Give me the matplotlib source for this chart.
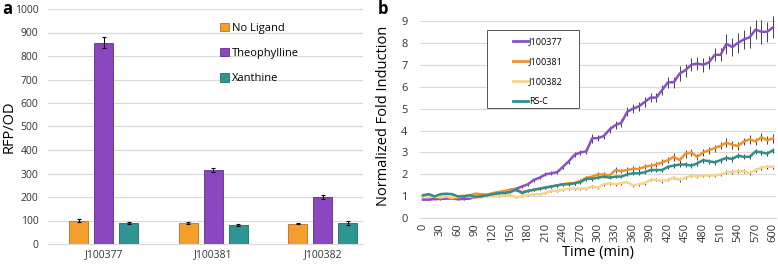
import numpy as np
import matplotlib
matplotlib.use("Agg")
import matplotlib.pyplot as plt
from matplotlib.lines import Line2D
from matplotlib.patches import Rectangle

plt.rcParams["font.family"] = ["Open Sans", "DejaVu Sans"]

# Panel a data
constructs = ["J100377", "J100381", "J100382"]
ligands = ["No Ligand", "Theophylline", "Xanthine"]
rfp_no_ligand = [100, 88, 87]
rfp_theophylline = [857, 315, 200]
rfp_xanthine = [88, 80, 90]
err_no_ligand = [6, 4, 3]
err_theophylline = [25, 10, 7]
err_xanthine = [5, 3, 8]

# Panel b data (every 10 min)
time_min = list(range(0, 610, 10))
fold_j100377 = [0.85, 0.85, 0.88, 0.88, 0.9, 0.9, 0.87, 0.88, 0.9, 0.97,
                1.0, 1.05, 1.1, 1.15, 1.2, 1.3, 1.35, 1.45, 1.55, 1.75,
                1.85, 2.0, 2.05, 2.1, 2.35, 2.6, 2.9, 3.0, 3.05, 3.65,
                3.65, 3.75, 4.05, 4.25, 4.35, 4.85, 5.0, 5.1, 5.3, 5.5,
                5.5, 5.85, 6.2, 6.2, 6.6, 6.75, 7.0, 7.05, 7.0, 7.1,
                7.45, 7.45, 7.95, 7.8, 8.0, 8.15, 8.25, 8.6, 8.5, 8.5, 8.7]
fold_j100381 = [1.0, 1.0, 0.97, 0.95, 1.0, 0.9, 0.95, 1.0, 1.05, 1.12,
                1.1, 1.08, 1.15, 1.2, 1.25, 1.3, 1.3, 1.2, 1.25, 1.3,
                1.35, 1.4, 1.45, 1.5, 1.55, 1.6, 1.6, 1.7, 1.85, 1.9,
                2.0, 2.0, 1.95, 2.2, 2.15, 2.2, 2.25, 2.25, 2.35, 2.4,
                2.45, 2.55, 2.65, 2.8, 2.65, 2.95, 3.0, 2.8, 3.0, 3.1,
                3.2, 3.3, 3.45, 3.35, 3.3, 3.5, 3.6, 3.5, 3.7, 3.55, 3.65]
fold_j100382 = [1.0, 0.97, 1.0, 0.95, 1.0, 0.95, 1.0, 1.05, 1.0, 0.95,
                0.97, 1.0, 1.0, 1.0, 1.05, 1.05, 0.95, 1.0, 1.05, 1.1,
                1.1, 1.15, 1.25, 1.25, 1.3, 1.35, 1.35, 1.35, 1.35, 1.45,
                1.4, 1.55, 1.6, 1.55, 1.6, 1.65, 1.5, 1.55, 1.6, 1.75,
                1.75, 1.7, 1.75, 1.85, 1.75, 1.85, 1.95, 1.9, 1.95, 1.95,
                1.95, 2.0, 2.1, 2.1, 2.15, 2.15, 2.05, 2.2, 2.3, 2.35, 2.35]
fold_rsc = [1.05, 1.1, 1.0, 1.1, 1.12, 1.1, 1.0, 1.0, 1.05, 0.97,
            1.0, 1.05, 1.1, 1.15, 1.15, 1.2, 1.3, 1.15, 1.25, 1.3,
            1.35, 1.4, 1.45, 1.5, 1.55, 1.55, 1.6, 1.65, 1.8, 1.8,
            1.85, 1.9, 1.85, 1.9, 1.9, 2.0, 2.05, 2.05, 2.1, 2.2,
            2.2, 2.2, 2.35, 2.4, 2.45, 2.45, 2.4, 2.5, 2.65, 2.6,
            2.55, 2.65, 2.75, 2.7, 2.85, 2.8, 2.8, 3.05, 3.0, 2.95, 3.1]
err_j100377 = [0.03, 0.03, 0.03, 0.03, 0.03, 0.03, 0.03, 0.03, 0.03, 0.04,
               0.04, 0.04, 0.05, 0.05, 0.05, 0.06, 0.06, 0.07, 0.07, 0.08,
               0.08, 0.09, 0.09, 0.1, 0.1, 0.12, 0.12, 0.13, 0.14, 0.2,
               0.15, 0.15, 0.16, 0.17, 0.18, 0.2, 0.22, 0.2, 0.22, 0.22,
               0.22, 0.24, 0.25, 0.25, 0.35, 0.3, 0.3, 0.3, 0.32, 0.28,
               0.3, 0.3, 0.45, 0.4, 0.45, 0.45, 0.5, 0.45, 0.55, 0.45, 0.5]
err_j100381 = [0.03, 0.03, 0.03, 0.03, 0.03, 0.03, 0.03, 0.03, 0.03, 0.04,
               0.04, 0.04, 0.04, 0.05, 0.05, 0.05, 0.05, 0.05, 0.05, 0.06,
               0.06, 0.06, 0.06, 0.07, 0.07, 0.07, 0.08, 0.08, 0.08, 0.09,
               0.09, 0.1, 0.1, 0.12, 0.1, 0.12, 0.12, 0.12, 0.12, 0.12,
               0.12, 0.14, 0.15, 0.18, 0.15, 0.18, 0.18, 0.15, 0.16, 0.16,
               0.16, 0.16, 0.2, 0.18, 0.18, 0.18, 0.2, 0.18, 0.2, 0.18, 0.2]
err_j100382 = [0.03, 0.03, 0.03, 0.03, 0.03, 0.03, 0.03, 0.03, 0.03, 0.03,
               0.03, 0.03, 0.03, 0.03, 0.03, 0.04, 0.04, 0.04, 0.04, 0.04,
               0.04, 0.04, 0.05, 0.05, 0.05, 0.05, 0.05, 0.05, 0.05, 0.06,
               0.06, 0.06, 0.06, 0.06, 0.06, 0.06, 0.06, 0.07, 0.07, 0.07,
               0.07, 0.07, 0.07, 0.08, 0.08, 0.08, 0.08, 0.08, 0.08, 0.08,
               0.08, 0.08, 0.09, 0.09, 0.09, 0.09, 0.09, 0.1, 0.1, 0.1, 0.1]
err_rsc = [0.05, 0.06, 0.05, 0.05, 0.05, 0.05, 0.05, 0.05, 0.05, 0.05,
           0.05, 0.05, 0.05, 0.05, 0.05, 0.05, 0.06, 0.06, 0.06, 0.06,
           0.06, 0.06, 0.06, 0.07, 0.07, 0.07, 0.07, 0.08, 0.08, 0.08,
           0.08, 0.08, 0.08, 0.08, 0.08, 0.09, 0.09, 0.09, 0.09, 0.1,
           0.1, 0.1, 0.1, 0.1, 0.1, 0.1, 0.1, 0.11, 0.11, 0.11,
           0.11, 0.11, 0.12, 0.12, 0.12, 0.12, 0.12, 0.12, 0.12, 0.12, 0.12]

bar_colors = ["#F59E2C", "#8A47BF", "#2E9692"]
bar_edges = ["#B8731A", "#5E2E88", "#1F6B68"]
line_colors = ["#8A4FC6", "#F0922C", "#F7D48A", "#2E8E8C"]
grid_color = "#D9D9D9"

W, H = 778, 266
fig = plt.figure(figsize=(W / 100, H / 100), dpi=100)

# ---- Panel a ----
ax1 = fig.add_axes([48 / W, 22 / H, 315 / W, 235 / H])
x = np.arange(len(constructs))
width = 0.173
offset = 0.228
series = [rfp_no_ligand, rfp_theophylline, rfp_xanthine]
errs = [err_no_ligand, err_theophylline, err_xanthine]
for k, (vals, e) in enumerate(zip(series, errs)):
    ax1.bar(x + (k - 1) * offset, vals, width, yerr=e, color=bar_colors[k],
            edgecolor=bar_edges[k], linewidth=0.6, label=ligands[k], zorder=3,
            error_kw=dict(elinewidth=0.8, capsize=1.5, capthick=0.8, ecolor="black"))
ax1.set_ylim(0, 1000)
ax1.set_xlim(-0.506, 2.365)
ax1.set_yticks(range(0, 1001, 100))
ax1.set_xticks(x)
ax1.set_xticklabels(constructs)
ax1.yaxis.grid(True, color=grid_color, linewidth=0.8, zorder=0)
ax1.set_axisbelow(True)
for s in ["top", "right", "left"]:
    ax1.spines[s].set_visible(False)
ax1.spines["bottom"].set_color(grid_color)
ax1.tick_params(axis="both", length=0, labelsize=7.5, colors="#333333")
ax1.tick_params(axis="y", pad=7)
ax1.set_ylabel("RFP/OD", fontsize=10.5)
ax1.yaxis.set_label_coords(-31 / 315, 0.5)
ax1.legend(loc="upper left", bbox_to_anchor=(0.515, 0.985), frameon=False,
           fontsize=8, handlelength=0.75, handleheight=0.75,
           labelspacing=1.3, handletextpad=0.3)
fig.text(2 / W, 1 - 9 / H, "a", fontsize=12, fontweight="bold", va="center")

# ---- Panel b ----
ax2 = fig.add_axes([420 / W, 47.7 / H, 356 / W, 204.1 / H])
lines = [fold_j100377, fold_j100381, fold_j100382, fold_rsc]
line_errs = [err_j100377, err_j100381, err_j100382, err_rsc]
names = ["J100377", "J100381", "J100382", "RS-C"]
for vals, e, c in zip(lines, line_errs, line_colors):
    ax2.errorbar(time_min, vals, yerr=e, color=c, linewidth=1.8,
                 ecolor="#222222", elinewidth=0.6, capsize=0, zorder=3)
ax2.set_xlim(-5, 605)
ax2.set_ylim(0, 9.3)
ax2.set_yticks(range(0, 10))
ax2.set_xticks(range(0, 601, 30))
ax2.tick_params(axis="x", rotation=90)
ax2.yaxis.grid(True, color=grid_color, linewidth=0.8, zorder=0)
ax2.set_axisbelow(True)
for s in ["top", "right", "left"]:
    ax2.spines[s].set_visible(False)
ax2.spines["bottom"].set_color(grid_color)
ax2.tick_params(axis="both", length=0, labelsize=8, colors="#333333")
ax2.tick_params(axis="y", pad=9)
ax2.set_xlabel("Time (min)", fontsize=10.5, labelpad=2)
ax2.set_ylabel("Normalized Fold Induction", fontsize=10.5)
ax2.yaxis.set_label_coords(-29 / 356, 0.5)

# boxed legend drawn as a frame plus a frameless legend inside
fig.patches.append(Rectangle((487 / W, 1 - 108 / H), 92 / W, 78 / H,
                             transform=fig.transFigure, facecolor="white",
                             edgecolor="#555555", linewidth=0.7, zorder=5))
handles = [Line2D([], [], color=c, linewidth=2) for c in line_colors]
leg2 = fig.legend(handles, names, loc="upper left",
                  bbox_to_anchor=(507 / W, 1 - 31 / H), frameon=False,
                  fontsize=6.5, handlelength=1.6, labelspacing=1.2,
                  handletextpad=0.15, borderpad=0.2)
leg2.set_zorder(6)
fig.text(378 / W, 1 - 9 / H, "b", fontsize=12, fontweight="bold", va="center")

fig.savefig("out.png", dpi=100)
